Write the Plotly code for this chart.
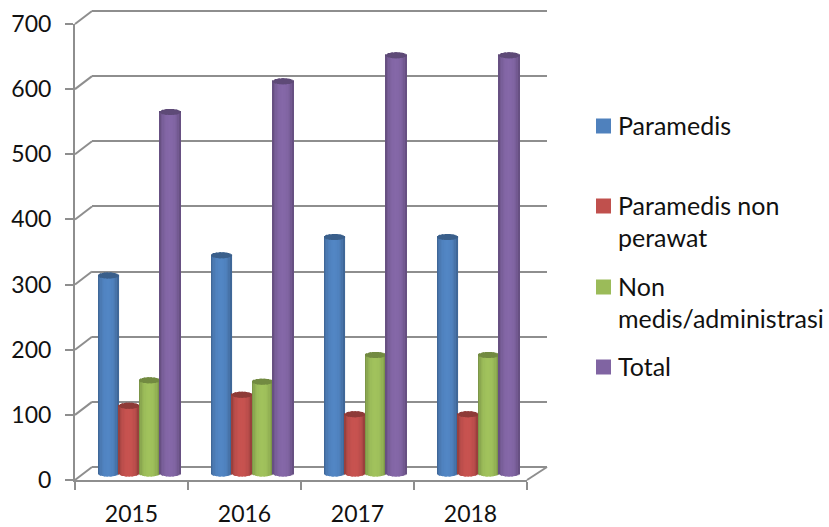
import math
import plotly.graph_objects as go

W, H = 829, 527
years = ["2015", "2016", "2017", "2018"]
y_ticks = [0, 100, 200, 300, 400, 500, 600, 700]
paramedis = [304, 335, 363, 363]
paramedis_non = [104, 121, 91, 91]
non_medis = [143, 141, 182, 182]
total = [555, 602, 642, 642]

series = [
    ("Paramedis", paramedis, (79, 129, 189)),
    ("Paramedis non perawat", paramedis_non, (192, 80, 77)),
    ("Non medis/administrasi", non_medis, (155, 187, 89)),
    ("Total", total, (128, 100, 162)),
]
legend_rows = [
    (["Paramedis"], (79, 129, 189), 126),
    (["Paramedis non", "perawat"], (192, 80, 77), 206),
    (["Non", "medis/administrasi"], (155, 187, 89), 287),
    (["Total"], (128, 100, 162), 367),
]

GRID = "#8e8e8e"
FONT = "Lato"
FS = 23
LEG_FS = 25
TXT = "#111111"


def px(x):
    return x / W


def py(y):
    return 1 - y / H


def shade(c, f):
    return "rgb(%d,%d,%d)" % tuple(min(255, int(v * f)) for v in c)


fig = go.Figure()

fig.add_trace(go.Scatter(x=[0, 1], y=[0, 0], mode="lines", line=dict(width=0),
                         showlegend=False, hoverinfo="skip", xaxis="x", yaxis="y"))

N = 15
bar_w = 20.6 / 113
unit_per_px = 700 / 456
e = 3.0 * unit_per_px
strip = 2 * (bar_w / 2) / N
for s_i, (name, vals, col) in enumerate(series):
    centre = (s_i - 1.5) * bar_w
    for k in range(N):
        t = -1 + (2 * k + 1) / N
        s = math.sqrt(max(0, 1 - t * t))
        f = 0.62 + 0.42 * s ** 0.8
        xs = [i + centre + t * bar_w / 2 for i in range(len(years))]
        fig.add_trace(go.Bar(
            x=xs, y=[v + e * s for v in vals], base=[-e * s] * len(vals),
            width=strip * 1.25, marker=dict(color=shade(col, f), line=dict(width=0)),
            showlegend=False, hoverinfo="skip", xaxis="x2", yaxis="y2"))
    for k in range(N):
        t = -1 + (2 * k + 1) / N
        s = math.sqrt(max(0, 1 - t * t))
        xs = [i + centre + t * bar_w / 2 for i in range(len(years))]
        fig.add_trace(go.Bar(
            x=xs, y=[2 * e * s] * len(vals), base=[v - e * s for v in vals],
            width=strip * 1.25, marker=dict(color=shade(col, 0.74), line=dict(width=0)),
            showlegend=False, hoverinfo="skip", xaxis="x2", yaxis="y2"))

fig.add_trace(go.Scatter(x=years, y=[0, 0, 0, 0], mode="lines", line=dict(width=0),
                         showlegend=False, hoverinfo="skip", xaxis="x3", yaxis="y3"))

shapes = []
for v in y_ticks:
    y_front = 480 - v * 456 / 700
    shapes.append(dict(type="line", xref="paper", yref="paper",
                       x0=px(75), x1=px(92), y0=py(y_front), y1=py(y_front - 13),
                       line=dict(color=GRID, width=2), layer="below"))
shapes.append(dict(type="line", xref="paper", yref="paper",
                   x0=px(527), x1=px(547), y0=py(480), y1=py(467),
                   line=dict(color=GRID, width=2), layer="below"))

annotations = []
for lines, col, y0 in legend_rows:
    shapes.append(dict(type="rect", xref="paper", yref="paper",
                       x0=px(596), x1=px(611), y0=py(y0 - 7.5), y1=py(y0 + 7.5),
                       fillcolor=shade(col, 1), line=dict(width=0)))
    for j, line in enumerate(lines):
        annotations.append(dict(text=line, xref="paper", yref="paper", showarrow=False,
                                x=px(616), y=py(y0 - 1 + j * 32), xanchor="left", yanchor="middle",
                                font=dict(family=FONT, size=LEG_FS, color=TXT)))

hidden = dict(visible=False, fixedrange=True, automargin=False)
pad = 4  # px of axis padding so the 0 and 700 gridlines are kept
pad_u = pad * 700 / 456
fig.update_layout(
    width=W, height=H, margin=dict(l=0, r=0, t=0, b=0, pad=0),
    paper_bgcolor="white", plot_bgcolor="rgba(0,0,0,0)",
    showlegend=False, barmode="overlay", autosize=False,
    shapes=shapes, annotations=annotations,
    xaxis=dict(domain=[px(92), px(547)], range=[0, 1], **hidden),
    yaxis=dict(domain=[py(467 + pad), py(11 - pad)], range=[-pad_u, 700 + pad_u],
               tickvals=y_ticks, automargin=False,
               showgrid=True, gridcolor=GRID, gridwidth=2, zeroline=False,
               showline=False, showticklabels=False, ticks="", fixedrange=True),
    xaxis2=dict(domain=[px(83), px(535)], range=[-0.5, 3.5], anchor="y2", **hidden),
    yaxis2=dict(domain=[py(473.5 + pad), py(17.5 - pad)], range=[-pad_u, 700 + pad_u],
                anchor="x2", **hidden),
    xaxis3=dict(domain=[px(75), px(527)], range=[-0.5, 3.5], anchor="y3", type="category",
                categoryorder="array", categoryarray=years, automargin=False,
                tickson="boundaries", ticks="outside", ticklen=8, tickwidth=2, tickcolor=GRID,
                showline=True, linecolor=GRID, linewidth=2, showgrid=False,
                tickfont=dict(family=FONT, size=FS, color=TXT), ticklabelstandoff=12,
                fixedrange=True),
    yaxis3=dict(domain=[py(480), py(24)], range=[0, 700], anchor="x3", tickvals=y_ticks,
                automargin=False,
                ticks="outside", ticklen=8, tickwidth=2, tickcolor=GRID,
                showline=True, linecolor=GRID, linewidth=2, showgrid=False, zeroline=False,
                tickfont=dict(family=FONT, size=FS, color=TXT), ticklabelstandoff=9,
                fixedrange=True),
)
fig.write_html("out.html", post_script="document.body.style.margin='0';",
               config={"displayModeBar": False})
